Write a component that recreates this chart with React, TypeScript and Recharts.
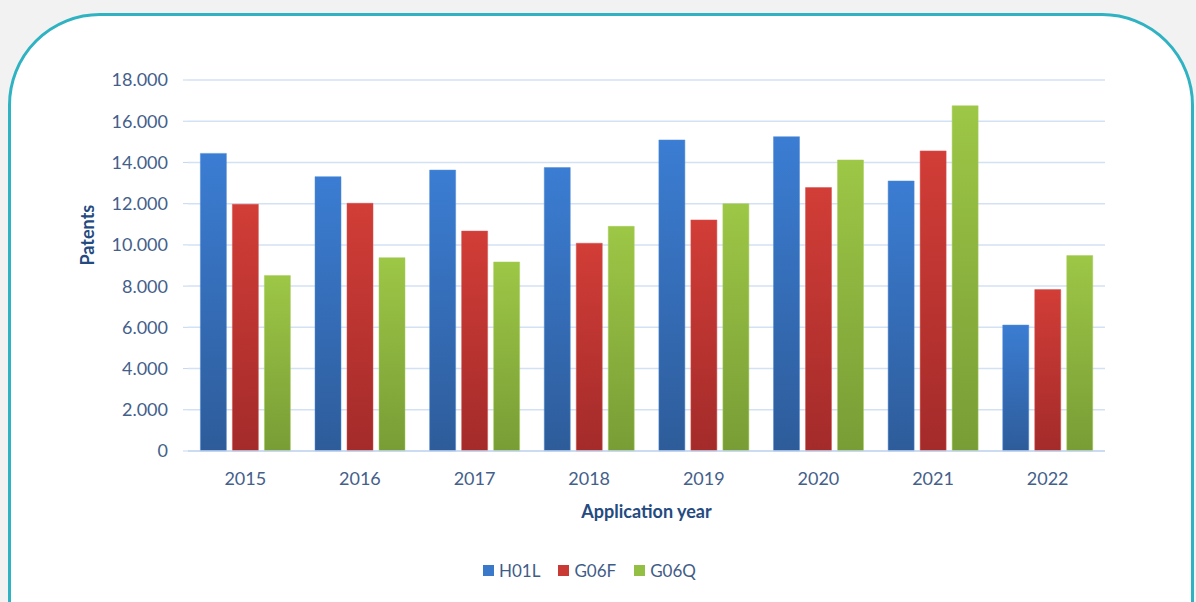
import React from 'react';
import { BarChart, Bar, XAxis, YAxis, CartesianGrid, Legend } from 'recharts';

const years = ['2015', '2016', '2017', '2018', '2019', '2020', '2021', '2022'];
const h01l = [14440, 13310, 13630, 13750, 15090, 15250, 13100, 6110];
const g06f = [11970, 12020, 10670, 10080, 11210, 12780, 14560, 7830];
const g06q = [8510, 9380, 9170, 10900, 12000, 14120, 16750, 9480];
const yTicks = [0, 2000, 4000, 6000, 8000, 10000, 12000, 14000, 16000, 18000];
const seriesNames = ['H01L', 'G06F', 'G06Q'];

const data = years.map((y, i) => ({ year: y, H01L: h01l[i], G06F: g06f[i], G06Q: g06q[i] }));

const fmt = (v: number) => (v === 0 ? '0' : v.toLocaleString('en-US').replace(/,/g, '.'));

const legendColors: Record<string, string> = { H01L: '#3a78c9', G06F: '#c93a35', G06Q: '#94bf45' };

const renderLegend = () => (
  <div style={{ display: 'flex', justifyContent: 'flex-start', alignItems: 'center', fontFamily: 'Lato, sans-serif', fontSize: 17, color: '#3f5c88' }}>
    {seriesNames.map((n) => (
      <div key={n} style={{ display: 'flex', alignItems: 'center', marginRight: 18 }}>
        <span style={{ display: 'inline-block', width: 11, height: 11, background: legendColors[n], marginRight: 5 }} />
        <span>{n}</span>
      </div>
    ))}
  </div>
);

export default function App() {
  const tickStyle = { fill: '#44608a', fontSize: 18, fontFamily: 'Lato, sans-serif' };
  return (
    <div style={{ position: 'fixed', left: 0, top: 0, width: 1196, height: 602, background: '#f2f2f2', overflow: 'hidden' }}>
      <div
        style={{
          position: 'absolute',
          left: 8,
          top: 13,
          width: 1180,
          height: 680,
          border: '3px solid #2fb2c2',
          borderRadius: 92,
          background: '#ffffff',
        }}
      />
      <div style={{ position: 'absolute', left: 0, top: 0 }}>
        <BarChart
          width={1196}
          height={602}
          data={data}
          margin={{ top: 80, right: 91, left: 8, bottom: 60 }}
          barCategoryGap="10.8%"
          barGap={6}
        >
          <defs>
            <linearGradient id="gBlue" x1="0" y1="0" x2="0" y2="1">
              <stop offset="0%" stopColor="#3b7dd3" />
              <stop offset="100%" stopColor="#2e5c9a" />
            </linearGradient>
            <linearGradient id="gRed" x1="0" y1="0" x2="0" y2="1">
              <stop offset="0%" stopColor="#d23d37" />
              <stop offset="100%" stopColor="#a32b2a" />
            </linearGradient>
            <linearGradient id="gGreen" x1="0" y1="0" x2="0" y2="1">
              <stop offset="0%" stopColor="#9dc746" />
              <stop offset="100%" stopColor="#789d36" />
            </linearGradient>
          </defs>
          <CartesianGrid vertical={false} stroke="#d3e1f5" strokeWidth={1.5} />
          <XAxis
            dataKey="year"
            height={70}
            axisLine={{ stroke: '#c5d7ef', strokeWidth: 1.5 }}
            tickLine={false}
            tick={tickStyle}
            tickMargin={15}
            label={{ value: 'Application year', position: 'insideBottom', offset: 3, fill: '#244a80', fontSize: 18, fontWeight: 700, fontFamily: 'Lato, sans-serif' }}
          />
          <YAxis
            width={180}
            domain={[0, 18000]}
            ticks={yTicks}
            tickFormatter={fmt}
            tick={tickStyle}
            axisLine={false}
            tickLine={{ stroke: '#c5d7ef' }}
            tickSize={5}
            tickMargin={15}
            label={{ value: 'Patents', angle: -90, position: 'insideLeft', offset: 80, fill: '#244a80', fontSize: 18, fontWeight: 700, fontFamily: 'Lato, sans-serif' }}
          />
          <Legend content={renderLegend} wrapperStyle={{ left: 483, top: 560, width: 300 }} />
          <Bar dataKey="H01L" name="H01L" fill="url(#gBlue)" stroke="#4d8ad6" strokeWidth={0.5} isAnimationActive={false} />
          <Bar dataKey="G06F" name="G06F" fill="url(#gRed)" stroke="#d9524c" strokeWidth={0.5} isAnimationActive={false} />
          <Bar dataKey="G06Q" name="G06Q" fill="url(#gGreen)" stroke="#a8cf58" strokeWidth={0.5} isAnimationActive={false} />
        </BarChart>
      </div>
    </div>
  );
}
